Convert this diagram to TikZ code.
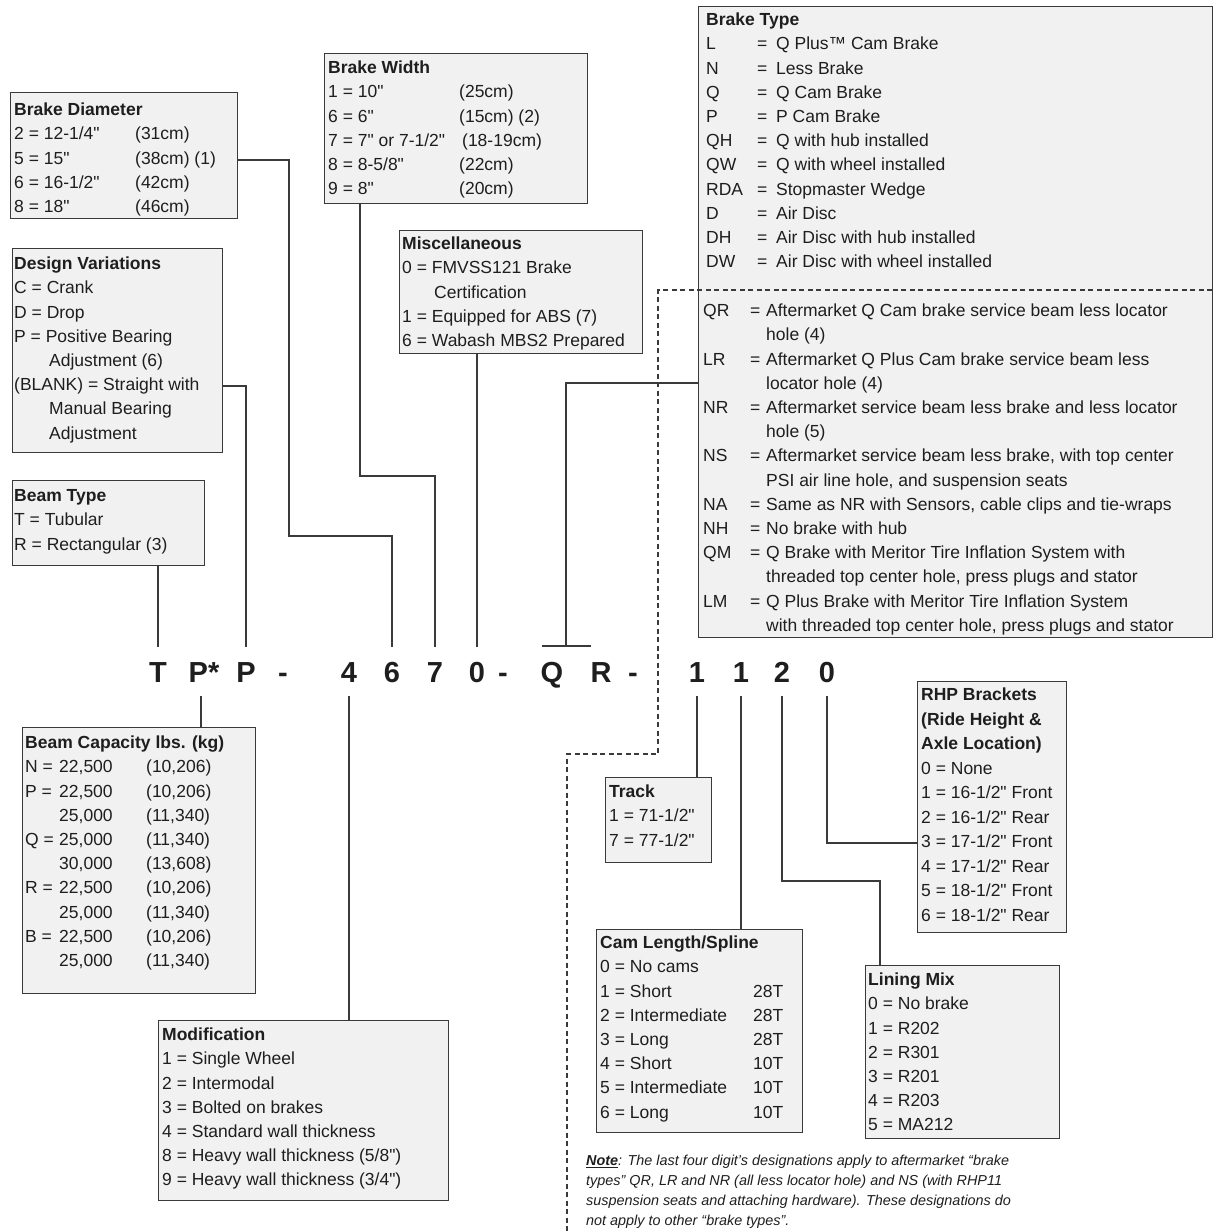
\documentclass[tikz,border=0pt]{standalone}
\usepackage{fontspec}
\setmainfont{Liberation Sans}[Ligatures=TeXOff]
\definecolor{boxfill}{HTML}{F1F1F1}
\definecolor{boxline}{HTML}{3A3A3A}
\definecolor{inkc}{HTML}{1E1E1E}
\newcommand\mycol[2]{\makebox[#1][l]{#2}}
\tikzset{
  box/.style={draw=boxline, fill=boxfill, line width=1.2pt, inner sep=0pt, anchor=north west},
  txt/.style={anchor=north west, inner sep=0pt, text=inkc, font=\fontsize{17.5}{24.2}\selectfont},
  codech/.style={anchor=base, inner sep=0pt, text height=21pt, text depth=0pt, inner ysep=14pt,
                 text=inkc, font=\fontsize{29}{29}\selectfont\bfseries},
  conn/.style={draw=boxline, line width=1.1pt},
  dconn/.style={draw=boxline, line width=1.1pt, dash pattern=on 5pt off 3.5pt}
}
\begin{document}
\begin{tikzpicture}[x=1pt,y=-1pt]
\useasboundingbox (0,0) rectangle (1217,1232);

% ---------- boxes ----------
\node[box, minimum width=227pt, minimum height=126pt] (bd)  at (10,92)   {};
\node[box, minimum width=210pt, minimum height=204pt] (dv)  at (12,248)  {};
\node[box, minimum width=192pt, minimum height=85pt]  (bt)  at (12,480)  {};
\node[box, minimum width=263pt, minimum height=150pt] (bw)  at (324,53)  {};
\node[box, minimum width=243pt, minimum height=123pt] (mi)  at (399,230) {};
\node[box, minimum width=514pt, minimum height=631pt] (bty) at (698,6)   {};
\node[box, minimum width=233pt, minimum height=266pt] (bc)  at (22,727)  {};
\node[box, minimum width=290pt, minimum height=180pt] (mo)  at (158,1020){};
\node[box, minimum width=106pt, minimum height=85pt]  (tr)  at (605,777) {};
\node[box, minimum width=206pt, minimum height=203pt] (cl)  at (596,929) {};
\node[box, minimum width=194pt, minimum height=173pt] (lm)  at (865,965) {};
\node[box, minimum width=149pt, minimum height=251pt] (rhp) at (917,681) {};

% ---------- box texts ----------
\node[txt] (bdt) at (14,98.5) {\begin{tabular}{@{}l@{}}
\textbf{Brake Diameter}\\
\mycol{121pt}{2 = 12-1/4"}(31cm)\\
\mycol{121pt}{5 = 15"}(38cm) (1)\\
\mycol{121pt}{6 = 16-1/2"}(42cm)\\
\mycol{121pt}{8 = 18"}(46cm)
\end{tabular}};

\node[txt] (dvt) at (14,252.5) {\begin{tabular}{@{}l@{}}
\textbf{Design Variations}\\
C = Crank\\
D = Drop\\
P = Positive Bearing\\
\hspace*{35pt}Adjustment (6)\\
(BLANK) = Straight with\\
\hspace*{35pt}Manual Bearing\\
\hspace*{35pt}Adjustment
\end{tabular}};

\node[txt] (btt) at (14,484.5) {\begin{tabular}{@{}l@{}}
\textbf{Beam Type}\\
T = Tubular\\
R = Rectangular (3)
\end{tabular}};

\node[txt] (bwt) at (328,56.5) {\begin{tabular}{@{}l@{}}
\textbf{Brake Width}\\
\mycol{131pt}{1 = 10"}(25cm)\\
\mycol{131pt}{6 = 6"}(15cm) (2)\\
\mycol{134pt}{7 = 7" or 7-1/2"}(18-19cm)\\
\mycol{131pt}{8 = 8-5/8"}(22cm)\\
\mycol{131pt}{9 = 8"}(20cm)
\end{tabular}};

\node[txt] (mit) at (402,232.5) {\begin{tabular}{@{}l@{}}
\textbf{Miscellaneous}\\
0 = FMVSS121 Brake\\
\hspace*{32pt}Certification\\
1 = Equipped for ABS (7)\\
6 = Wabash MBS2 Prepared
\end{tabular}};

\node[txt] (btyt) at (706,8.5) {\begin{tabular}{@{}l@{}}
\textbf{Brake Type}\\
\mycol{51pt}{L}\mycol{19pt}{=}Q Plus™ Cam Brake\\
\mycol{51pt}{N}\mycol{19pt}{=}Less Brake\\
\mycol{51pt}{Q}\mycol{19pt}{=}Q Cam Brake\\
\mycol{51pt}{P}\mycol{19pt}{=}P Cam Brake\\
\mycol{51pt}{QH}\mycol{19pt}{=}Q with hub installed\\
\mycol{51pt}{QW}\mycol{19pt}{=}Q with wheel installed\\
\mycol{51pt}{RDA}\mycol{19pt}{=}Stopmaster Wedge\\
\mycol{51pt}{D}\mycol{19pt}{=}Air Disc\\
\mycol{51pt}{DH}\mycol{19pt}{=}Air Disc with hub installed\\
\mycol{51pt}{DW}\mycol{19pt}{=}Air Disc with wheel installed
\end{tabular}};

\node[txt] (btyl) at (703,299.5) {\begin{tabular}{@{}l@{}}
\mycol{47pt}{QR}\mycol{16pt}{=}Aftermarket Q Cam brake service beam less locator\\
\hspace*{63pt}hole (4)\\
\mycol{47pt}{LR}\mycol{16pt}{=}Aftermarket Q Plus Cam brake service beam less\\
\hspace*{63pt}locator hole (4)\\
\mycol{47pt}{NR}\mycol{16pt}{=}Aftermarket service beam less brake and less locator\\
\hspace*{63pt}hole (5)\\
\mycol{47pt}{NS}\mycol{16pt}{=}Aftermarket service beam less brake, with top center\\
\hspace*{63pt}PSI air line hole, and suspension seats\\
\mycol{47pt}{NA}\mycol{16pt}{=}Same as NR with Sensors, cable clips and tie-wraps\\
\mycol{47pt}{NH}\mycol{16pt}{=}No brake with hub\\
\mycol{47pt}{QM}\mycol{16pt}{=}Q Brake with Meritor Tire Inflation System with\\
\hspace*{63pt}threaded top center hole, press plugs and stator\\
\mycol{47pt}{LM}\mycol{16pt}{=}Q Plus Brake with Meritor Tire Inflation System\\
\hspace*{63pt}with threaded top center hole, press plugs and stator
\end{tabular}};

\node[txt] (bct) at (25,731.5) {\begin{tabular}{@{}l@{}}
\textbf{Beam Capacity lbs. (kg)}\\
\mycol{34pt}{N =}\mycol{87pt}{22,500}(10,206)\\
\mycol{34pt}{P =}\mycol{87pt}{22,500}(10,206)\\
\mycol{34pt}{}\mycol{87pt}{25,000}(11,340)\\
\mycol{34pt}{Q =}\mycol{87pt}{25,000}(11,340)\\
\mycol{34pt}{}\mycol{87pt}{30,000}(13,608)\\
\mycol{34pt}{R =}\mycol{87pt}{22,500}(10,206)\\
\mycol{34pt}{}\mycol{87pt}{25,000}(11,340)\\
\mycol{34pt}{B =}\mycol{87pt}{22,500}(10,206)\\
\mycol{34pt}{}\mycol{87pt}{25,000}(11,340)
\end{tabular}};

\node[txt] (mot) at (162,1023.5) {\begin{tabular}{@{}l@{}}
\textbf{Modification}\\
1 = Single Wheel\\
2 = Intermodal\\
3 = Bolted on brakes\\
4 = Standard wall thickness\\
8 = Heavy wall thickness (5/8")\\
9 = Heavy wall thickness (3/4")
\end{tabular}};

\node[txt] (trt) at (609,780.5) {\begin{tabular}{@{}l@{}}
\textbf{Track}\\
1 = 71-1/2"\\
7 = 77-1/2"
\end{tabular}};

\node[txt] (clt) at (600,931.5) {\begin{tabular}{@{}l@{}}
\textbf{Cam Length/Spline}\\
0 = No cams\\
\mycol{153pt}{1 = Short}28T\\
\mycol{153pt}{2 = Intermediate}28T\\
\mycol{153pt}{3 = Long}28T\\
\mycol{153pt}{4 = Short}10T\\
\mycol{153pt}{5 = Intermediate}10T\\
\mycol{153pt}{6 = Long}10T
\end{tabular}};

\node[txt] (lmt) at (868,968.5) {\begin{tabular}{@{}l@{}}
\textbf{Lining Mix}\\
0 = No brake\\
1 = R202\\
2 = R301\\
3 = R201\\
4 = R203\\
5 = MA212
\end{tabular}};

\node[txt, font=\fontsize{17.5}{24.5}\selectfont] (rhpt) at (921,683.5) {\begin{tabular}{@{}l@{}}
\textbf{RHP Brackets}\\
\textbf{(Ride Height \&}\\
\textbf{Axle Location)}\\
0 = None\\
1 = 16-1/2" Front\\
2 = 16-1/2" Rear\\
3 = 17-1/2" Front\\
4 = 17-1/2" Rear\\
5 = 18-1/2" Front\\
6 = 18-1/2" Rear
\end{tabular}};

\node[txt, font=\fontsize{14.4}{20}\selectfont\itshape] (note) at (586,1151) {\begin{tabular}{@{}l@{}}
\underline{\textbf{Note}}: The last four digit’s designations apply to aftermarket “brake\\
types” QR, LR and NR (all less locator hole) and NS (with RHP11\\
suspension seats and attaching hardware). These designations do\\
not apply to other “brake types”.
\end{tabular}};

% ---------- code characters ----------
\node[codech] (c1)  at (158,682) {T};
\node[codech] (c2)  at (204,682) {P*};
\node[codech] (c3)  at (246,682) {P};
\node[codech] (c4d) at (283,682) {-};
\node[codech] (c4)  at (349,682) {4};
\node[codech] (c6)  at (392,682) {6};
\node[codech] (c7)  at (435,682) {7};
\node[codech] (c8)  at (477,682) {0};
\node[codech] (c8d) at (503,682) {-};
\node[codech] (c9)  at (552,682) {Q};
\node[codech] (c10) at (601,682) {R};
\node[codech] (c10d) at (633,682) {-};
\node[codech] (c13) at (697,682) {1};
\node[codech] (c14) at (741,682) {1};
\node[codech] (c15) at (782,682) {2};
\node[codech] (c16) at (827,682) {0};

% ---------- connectors above the code ----------
\draw[conn] (c1.north) -- (c1.north |- bt.south);
\draw[conn] (dv.east |- 0,386) -| (c3.north);
\draw[conn] (bd.east |- 0,160) -- (289,160) -- (289,536) -| (c6.north);
\draw[conn] (bw.south -| 360,0) -- (360,476) -| (c7.north);
\draw[conn] (mi.south -| c8.north) -- (c8.north);
\coordinate (qrbar) at (566,646);
\draw[conn] (bty.west |- 0,383) -| (qrbar);
\draw[conn] ([xshift=-24pt]qrbar) -- ([xshift=25pt]qrbar);

% ---------- connectors below the code ----------
\draw[conn] ([xshift=-3pt]c2.south) -- ([xshift=-3pt]c2.south |- bc.north);
\draw[conn] (c4.south) -- (c4.south |- mo.north);
\draw[conn] (c13.south) -- (c13.south |- tr.north);
\draw[conn] (c14.south) -- (c14.south |- cl.north);
\draw[conn] (c15.south) |- (880,881) -- (lm.north -| 880,0);
\draw[conn] (c16.south) |- (rhp.west |- 0,843);

% ---------- dashed separator ----------
\draw[dconn] (1212,290) -- (658,290) -- (658,754) -- (567,754) -- (567,1232);
\end{tikzpicture}
\end{document}
